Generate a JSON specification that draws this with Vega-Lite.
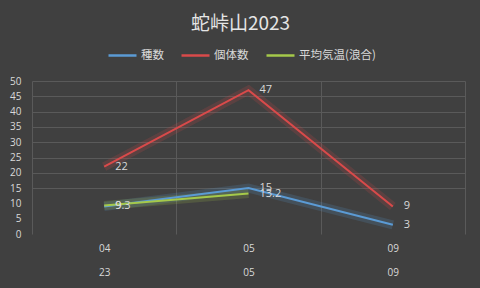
{
  "$schema": "https://vega.github.io/schema/vega-lite/v6.json",
  "width": 433,
  "height": 153,
  "autosize": {"type": "none"},
  "padding": {"left": 32, "top": 81, "right": 15, "bottom": 54},
  "background": "#404040",
  "title": {
    "text": "蛇峠山2023",
    "font": "Noto Sans CJK JP",
    "fontSize": 19,
    "fontWeight": "normal",
    "color": "#e6e6e6",
    "anchor": "middle",
    "dx": -8,
    "offset": 6
  },
  "config": {
    "view": {"stroke": null},
    "font": "Noto Sans CJK JP"
  },
  "data": {
    "values": [
      {"date": "04/23", "series": "種数", "value": 9},
      {"date": "05/05", "series": "種数", "value": 15},
      {"date": "09/09", "series": "種数", "value": 3},
      {"date": "04/23", "series": "個体数", "value": 22},
      {"date": "05/05", "series": "個体数", "value": 47},
      {"date": "09/09", "series": "個体数", "value": 9},
      {"date": "04/23", "series": "平均気温(浪合)", "value": 9.3},
      {"date": "05/05", "series": "平均気温(浪合)", "value": 13.2}
    ]
  },
  "encoding": {
    "x": {
      "field": "date",
      "type": "ordinal",
      "sort": null,
      "scale": {"paddingInner": 0, "paddingOuter": 0},
      "axis": {
        "title": null,
        "labelAngle": 0,
        "labelExpr": "datum.value ? split(datum.value, '/') : ''",
        "labelLineHeight": 24,
        "labelColor": "#d9d9d9",
        "labelFontSize": 10,
        "labelFont": "Open Sans",
        "labelPadding": 9,
        "domain": false,
        "ticks": false,
        "grid": true,
        "tickBand": "extent",
        "gridColor": "#5a5a5a",
        "gridWidth": 1
      }
    },
    "y": {
      "field": "value",
      "type": "quantitative",
      "scale": {"domain": [0, 50], "nice": false},
      "axis": {
        "title": null,
        "values": [0, 5, 10, 15, 20, 25, 30, 35, 40, 45, 50],
        "labelColor": "#d9d9d9",
        "labelFontSize": 10,
        "labelFont": "Open Sans",
        "labelPadding": 11,
        "domain": false,
        "ticks": false,
        "gridColor": "#5a5a5a",
        "gridOpacity": {"condition": {"test": "datum.value < 15", "value": 0}, "value": 1}
      }
    },
    "color": {
      "field": "series",
      "type": "nominal",
      "sort": ["種数", "個体数", "平均気温(浪合)"],
      "scale": {
        "domain": ["種数", "個体数", "平均気温(浪合)"],
        "range": ["#5b9bd5", "#d94a4a", "#a5c94a"]
      },
      "legend": {
        "title": null,
        "orient": "none",
        "direction": "horizontal",
        "legendX": 75,
        "legendY": -41,
        "symbolType": "stroke",
        "symbolSize": 784,
        "symbolStrokeWidth": 2.5,
        "symbolOpacity": 1,
        "labelColor": "#d9d9d9",
        "labelFontSize": 11.5,
        "labelOffset": 3,
        "columnPadding": 12
      }
    }
  },
  "layer": [
    {"mark": {"type": "line", "strokeWidth": 9, "opacity": 0.18}},
    {"mark": {"type": "line", "strokeWidth": 2}},
    {
      "mark": {"type": "text", "align": "left", "baseline": "middle", "dx": 11, "fontSize": 11, "font": "Open Sans", "color": "#d9d9d9"},
      "encoding": {"text": {"field": "value", "type": "quantitative"}, "color": {"value": "#d9d9d9"}}
    }
  ]
}
